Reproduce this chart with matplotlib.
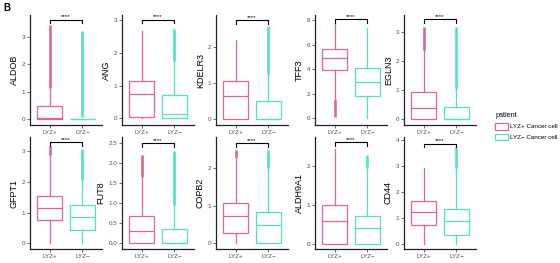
import matplotlib
matplotlib.use("Agg")
import matplotlib.pyplot as plt
from matplotlib.patches import Patch

plt.rcParams['font.family'] = ['Liberation Sans', 'DejaVu Sans']

genes = ["ALDOB", "ANG", "KDELR3", "TFF3", "EGLN3",
         "GFPT1", "FUT8", "COPB2", "ALDH9A1", "CD44"]
groups = ["LYZ+", "LYZ\u2212"]
legend_labels = ["LYZ+ Cancer cell", "LYZ\u2212 Cancer cell"]

# box statistics: [whislo, q1, median, q3, whishi] for LYZ+ and LYZ-
pos_stats = [
    [0.0, 0.0, 0.02, 0.47, 1.15],
    [0.0, 0.05, 0.75, 1.15, 2.65],
    [0.0, 0.0, 0.63, 1.05, 2.2],
    [1.5, 3.95, 4.9, 5.65, 7.8],
    [0.0, 0.0, 0.4, 0.95, 2.38],
    [0.0, 0.76, 1.14, 1.54, 2.87],
    [0.0, 0.0, 0.3, 0.68, 1.65],
    [0.0, 0.28, 0.73, 1.08, 2.23],
    [0.0, 0.0, 0.6, 1.0, 2.43],
    [0.0, 0.73, 1.23, 1.66, 2.92],
]
neg_stats = [
    [0.0, 0.0, 0.0, 0.0, 0.0],
    [0.0, 0.0, 0.15, 0.7, 1.75],
    [0.0, 0.0, 0.0, 0.5, 1.25],
    [0.0, 1.8, 3.0, 4.15, 7.4],
    [0.0, 0.0, 0.0, 0.42, 1.05],
    [0.0, 0.43, 0.85, 1.25, 2.05],
    [0.0, 0.0, 0.0, 0.37, 0.95],
    [0.0, 0.0, 0.49, 0.84, 2.0],
    [0.0, 0.0, 0.4, 0.72, 1.95],
    [0.0, 0.33, 0.9, 1.35, 2.9],
]
# dense outlier bands (low, high); None = no outliers
pos_fliers = [(1.15, 3.45), None, None, (0.1, 1.5), (2.38, 3.2),
              (2.87, 3.15), (1.65, 2.2), (2.25, 2.48), None, None]
neg_fliers = [(0.08, 3.2), (1.75, 2.72), (1.25, 2.6), None, (1.05, 3.2),
              (2.05, 3.05), (0.95, 2.3), (2.0, 2.47), (1.95, 2.27), (2.9, 3.7)]

sig_y = [3.63, 3.0, 2.75, 8.1, 3.45, 3.28, 2.5, 2.65, 2.6, 3.85]
ylims = [(-0.22, 3.8), (-0.2, 3.15), (-0.17, 2.9), (-0.55, 8.45), (-0.2, 3.6),
         (-0.18, 3.45), (-0.14, 2.66), (-0.15, 2.82), (-0.13, 2.74), (-0.19, 4.1)]
yticks = [[0, 1, 2, 3], [0, 1, 2, 3], [0, 1, 2], [0, 2, 4, 6, 8], [0, 1, 2, 3],
          [0, 1, 2, 3], [0.0, 0.5, 1.0, 1.5, 2.0, 2.5], [0, 1, 2], [0, 1, 2],
          [0, 1, 2, 3, 4]]

colors = ["#E0668F", "#4FE3BF"]

W, H = 560, 263
fig = plt.figure(figsize=(W / 100, H / 100), dpi=100)

lefts = [30, 122, 216, 315, 404]
row_top = [15, 137]
row_bot = [125, 249]
ax_w = 72

for i, g in enumerate(genes):
    r, c = divmod(i, 5)
    ax = fig.add_axes([lefts[c] / W, 1 - row_bot[r] / H, ax_w / W,
                       (row_bot[r] - row_top[r]) / H])
    stats = []
    for st, lab in zip([pos_stats[i], neg_stats[i]], groups):
        stats.append(dict(whislo=st[0], q1=st[1], med=st[2], q3=st[3],
                          whishi=st[4], label=lab, fliers=[]))
    bp = ax.bxp(stats, positions=[1, 2], widths=0.75, showcaps=False,
                showfliers=False, patch_artist=True)
    for k in range(2):
        col = colors[k]
        bp['boxes'][k].set(facecolor='white', edgecolor=col, linewidth=0.9)
        bp['medians'][k].set(color=col, linewidth=0.9)
        for wl in bp['whiskers'][2 * k:2 * k + 2]:
            wl.set(color=col, linewidth=0.9)
    for k, fl in enumerate([pos_fliers[i], neg_fliers[i]]):
        if fl is not None:
            ax.vlines(k + 1, fl[0], fl[1], color=colors[k], linewidth=1.9, zorder=1)
    # significance bracket
    yl = ylims[i]
    tip = 0.03 * (yl[1] - yl[0])
    ax.plot([1, 1, 2, 2], [sig_y[i] - tip, sig_y[i], sig_y[i], sig_y[i] - tip],
            color='black', linewidth=0.8)
    ax.text(1.5, sig_y[i] + 0.005 * (yl[1] - yl[0]), "****", ha='center',
            va='bottom', fontsize=4.3)
    ax.set_xlim(0.4, 2.6)
    ax.set_ylim(*yl)
    ax.set_yticks(yticks[i])
    if g == "FUT8":
        ax.set_yticklabels([f"{t:.1f}" for t in yticks[i]])
    ax.set_xticks([1, 2])
    ax.set_xticklabels(groups)
    ax.tick_params(labelsize=4.5, labelcolor='#4D4D4D', length=2, width=0.5,
                   color='#333333', pad=1.5)
    ax.set_ylabel(g, fontsize=6.5, labelpad=2)
    for s in ['top', 'right']:
        ax.spines[s].set_visible(False)
    for s in ['left', 'bottom']:
        ax.spines[s].set_linewidth(0.9)
        ax.spines[s].set_color('#222222')

fig.text(3 / W, 1 - 8 / H, "B", fontsize=7, fontweight='bold', va='center')

handles = [Patch(facecolor='white', edgecolor=colors[k], linewidth=0.9,
                 label=legend_labels[k]) for k in range(2)]
fig.legend(handles=handles, title="patient", loc='upper left',
           bbox_to_anchor=(494 / W, 1 - 111 / H), frameon=False,
           fontsize=4.5, title_fontsize=5.2, handlelength=2.0, handleheight=1.3,
           handletextpad=0.4, labelspacing=0.6, alignment='left',
           borderpad=0.2, borderaxespad=0.0)

fig.savefig("out.png", dpi=100)
